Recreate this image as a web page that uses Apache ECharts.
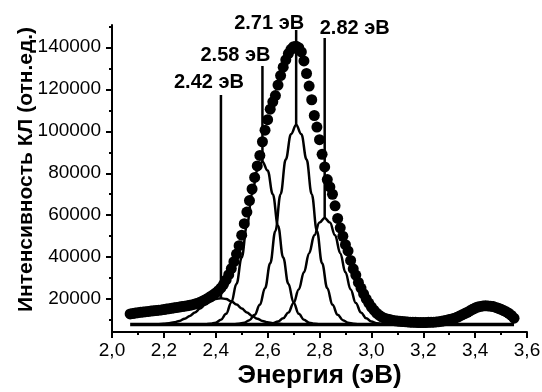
<!DOCTYPE html>
<html><head><meta charset="utf-8">
<script src="https://cdn.jsdelivr.net/npm/echarts@6/dist/echarts.min.js"></script>
<style>html,body{margin:0;padding:0;background:#fff}#c{width:542px;height:392px}</style>
</head><body><div id="c"></div>
<script>
// measured spectrum
const energy = [
 2.07,2.08,2.09,2.10,2.11,2.12,2.13,2.14,2.15,2.16,
 2.17,2.18,2.19,2.20,2.21,2.22,2.23,2.24,2.25,2.26,
 2.27,2.28,2.29,2.30,2.31,2.32,2.33,2.34,2.35,2.36,
 2.37,2.38,2.39,2.40,2.41,2.42,2.43,2.44,2.45,2.46,
 2.47,2.48,2.49,2.50,2.51,2.52,2.53,2.54,2.55,2.56,
 2.57,2.58,2.59,2.60,2.61,2.62,2.63,2.64,2.65,2.66,
 2.67,2.68,2.69,2.70,2.71,2.72,2.73,2.74,2.75,2.76,
 2.77,2.78,2.79,2.80,2.81,2.82,2.83,2.84,2.85,2.86,
 2.87,2.88,2.89,2.90,2.91,2.92,2.93,2.94,2.95,2.96,
 2.97,2.98,2.99,3.00,3.01,3.02,3.03,3.04,3.05,3.06,
 3.07,3.08,3.09,3.10,3.11,3.12,3.13,3.14,3.15,3.16,
 3.17,3.18,3.19,3.20,3.21,3.22,3.23,3.24,3.25,3.26,
 3.27,3.28,3.29,3.30,3.31,3.32,3.33,3.34,3.35,3.36,
 3.37,3.38,3.39,3.40,3.41,3.42,3.43,3.44,3.45,3.46,
 3.47,3.48,3.49,3.50,3.51,3.52,3.53,3.54,3.55
];
const intensity = [
 13000,13200,13400,13600,13800,13900,14100,14200,14400,14500,
 14600,14800,14900,15100,15300,15500,15700,15900,16100,16300,
 16500,16700,16900,17100,17400,17700,18100,18600,19200,19800,
 20500,21300,22100,23000,24100,25400,27100,29200,31700,34600,
 37900,41500,45500,50500,56000,61500,67000,72500,78000,83500,
 88500,95000,100500,105500,110500,114000,117000,122000,126500,130500,
 134000,137000,139000,140300,140500,139800,137800,133500,127500,121500,
 115000,107500,102000,96000,89000,83000,77000,73500,70000,64500,
 58500,54000,50000,46000,43000,38500,34500,31500,28000,25300,
 22600,20200,18200,16300,14800,13400,12400,11600,11000,10600,
 10300,10000,9800,9600,9500,9400,9300,9200,9100,9000,
 9000,8900,8900,8900,8900,9000,9000,9100,9200,9300,
 9500,9700,10000,10300,10600,10900,11400,12000,12600,13200,
 13800,14500,15200,15800,16300,16600,16800,16900,16800,16700,
 16500,16100,15700,15200,14600,14000,13300,12300,11000
];
// fitted components
const g1Energy = [2.14,2.16,2.18,2.20,2.22,2.24,2.26,2.28,2.30,2.32,2.34,2.36,2.38,2.40,2.42,2.44,2.46,2.48,2.50,2.52,2.54,2.56,2.58,2.60,2.62,2.64,2.66,2.68,2.70];
const g1Values = [8030,8060,8140,8290,8550,9000,9690,10700,12060,13720,15580,17440,19030,20120,20500,20120,19030,17440,15580,13720,12060,10700,9690,9000,8550,8290,8140,8060,8030];
const g2Energy = [2.34,2.36,2.38,2.40,2.42,2.44,2.46,2.48,2.50,2.52,2.54,2.56,2.58,2.60,2.62,2.64,2.66,2.68,2.70,2.72,2.74,2.76,2.78,2.80,2.82];
const g2Values = [8030,8090,8300,8860,10210,13090,18490,27330,39860,55000,70050,81310,85500,81310,70050,55000,39860,27330,18490,13090,10210,8860,8300,8090,8030];
const g3Energy = [2.45,2.47,2.49,2.51,2.53,2.55,2.57,2.59,2.61,2.63,2.65,2.67,2.69,2.71,2.73,2.75,2.77,2.79,2.81,2.83,2.85,2.87,2.89,2.91,2.93,2.95,2.97];
const g3Values = [8030,8100,8310,8840,10050,12590,17340,25280,37090,52550,70050,86610,98610,103000,98610,86610,70050,52550,37090,25280,17340,12590,10050,8840,8310,8100,8030];
const g4Energy = [2.56,2.58,2.60,2.62,2.64,2.66,2.68,2.70,2.72,2.74,2.76,2.78,2.80,2.82,2.84,2.86,2.88,2.90,2.92,2.94,2.96,2.98,3.00,3.02,3.04,3.06,3.08];
const g4Values = [8030,8080,8230,8590,9370,10930,13710,18200,24640,32860,41950,50420,56490,58700,56490,50420,41950,32860,24640,18200,13710,10930,9370,8590,8230,8080,8030];
const baseEnergy = [2.07, 3.55];
const baseValues = [8000, 8000];
// peak markers
const peakEnergy = [2.42, 2.58, 2.71, 2.82];
const peakValues = [20500, 85500, 103000, 58700];
const markerTop = [117300, 131100, 148200, 144400];
const peakUnit = 'эВ';
// axes
const yLabelValues = [20000, 40000, 60000, 80000, 100000, 120000, 140000];
const yMinorValues = [10000, 30000, 50000, 70000, 90000, 110000, 130000, 150000];
const xTitle = 'Энергия (эВ)';
const yTitle = 'Интенсивность КЛ (отн.ед.)';

const FONT = "'Liberation Sans', Arial, sans-serif";
const labelDx = [-12, -27, -27, 30];
const labelDy = [0, 2, 5, 2];

const zip = (a, b) => a.map((v, i) => [v, b[i]]);
const curve = (x, y, w) => ({
  type: 'line', data: zip(x, y), smooth: 0.4, smoothMonotone: 'x',
  symbol: 'none', lineStyle: { color: '#000', width: w }, z: 3, silent: true
});

const series = [
  { type: 'scatter', data: zip(energy, intensity), symbol: 'circle', symbolSize: 11,
    itemStyle: { color: '#000', opacity: 1 }, z: 2, silent: true },
  curve(baseEnergy, baseValues, 3.5),
  curve(g1Energy, g1Values, 2.5),
  curve(g2Energy, g2Values, 2.5),
  curve(g3Energy, g3Values, 2.5),
  curve(g4Energy, g4Values, 2.5)
];
peakEnergy.forEach((e, i) => {
  series.push({
    type: 'line', data: [[e, markerTop[i]], [e, peakValues[i]]], symbol: 'none',
    lineStyle: { color: '#000', width: 2.5 }, z: 4, silent: true
  });
});
series.push({
  type: 'scatter', symbolSize: 0, itemStyle: { color: '#000', opacity: 1 }, z: 5, clip: false, silent: true,
  data: peakEnergy.map((e, i) => ({
    value: [e, markerTop[i]],
    label: { show: true, position: 'top', distance: 2, offset: [labelDx[i], labelDy[i]],
      formatter: e.toFixed(2) + ' ' + peakUnit,
      fontFamily: FONT, fontWeight: 'bold', fontSize: 20, color: '#000', opacity: 1 }
  }))
});

const chart = echarts.init(document.getElementById('c'), null, { renderer: 'canvas' });
chart.setOption({
  backgroundColor: '#fff',
  animation: false,
  grid: { left: 112, right: 15, top: 25, bottom: 60, outerBoundsMode: 'none', containLabel: false },
  xAxis: {
    type: 'value', min: 2.0, max: 3.6, interval: 0.2,
    name: xTitle, nameLocation: 'middle', nameGap: 31, nameMoveOverlap: false,
    nameTextStyle: { fontFamily: FONT, fontWeight: 'bold', fontSize: 26, color: '#000' },
    axisLine: { show: true, onZero: false, lineStyle: { color: '#000', width: 2 } },
    axisTick: { show: true, length: 6, lineStyle: { color: '#000', width: 2 } },
    minorTick: { show: true, splitNumber: 2, length: 3, lineStyle: { color: '#000', width: 2 } },
    axisLabel: { fontFamily: FONT, fontSize: 19, color: '#000', margin: 9,
      formatter: v => v.toFixed(1).replace('.', ',') },
    splitLine: { show: false }
  },
  yAxis: [{
    type: 'value', min: 4400, max: 150600,
    name: yTitle, nameLocation: 'middle', nameGap: 75, nameMoveOverlap: false,
    nameTextStyle: { fontFamily: FONT, fontWeight: 'bold', fontSize: 21, color: '#000', padding: [0, 0, 0, 18] },
    axisLine: { show: true, onZero: false, lineStyle: { color: '#000', width: 2 } },
    axisTick: { show: true, length: 6, customValues: yLabelValues, lineStyle: { color: '#000', width: 2 } },
    axisLabel: { fontFamily: FONT, fontSize: 19, color: '#000', margin: 11, customValues: yLabelValues,
      formatter: v => String(Math.round(v)) },
    splitLine: { show: false }
  }, {
    type: 'value', min: 4400, max: 150600, position: 'left',
    axisLine: { show: false },
    axisTick: { show: true, length: 3, customValues: yMinorValues, lineStyle: { color: '#000', width: 2 } },
    axisLabel: { show: false },
    splitLine: { show: false }
  }],
  series: series
});
</script>
</body></html>
